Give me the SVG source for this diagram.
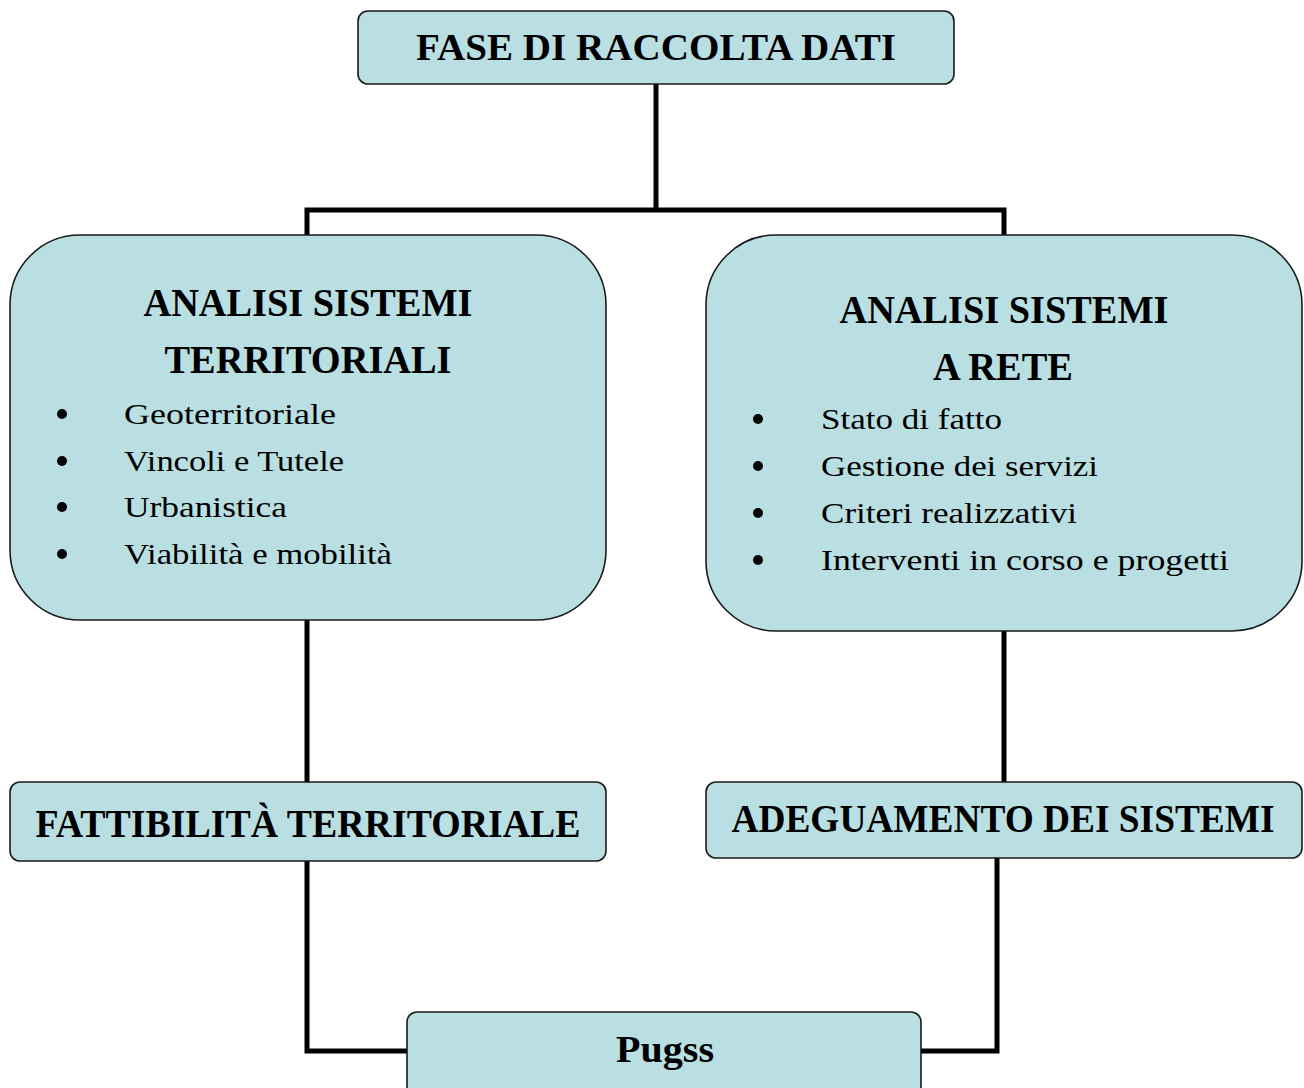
<svg xmlns="http://www.w3.org/2000/svg" width="1304" height="1088" viewBox="0 0 1304 1088">
<style>
.box{fill:#b9dfe3;stroke:#1a1a1a;stroke-width:1.6}
.conn{fill:none;stroke:#000;stroke-width:5;stroke-linejoin:miter}
.t{font-family:"Liberation Serif",serif;font-weight:bold;fill:#000;text-anchor:middle}
.b{font-family:"Liberation Serif",serif;font-size:30px;fill:#000}
.dot{fill:#000}
</style>
<rect width="1304" height="1088" fill="#fff"/>
<g id="connectors">
<path class="conn" d="M656 84 V210 M307 235 V210 H1004 V235"/>
<path class="conn" d="M307 620 V782"/>
<path class="conn" d="M1004 631 V782"/>
<path class="conn" d="M307 861 V1051 H407"/>
<path class="conn" d="M997 855 V1051 H920"/>
</g>
<g id="fase">
<rect class="box" x="358" y="11" width="596" height="73" rx="10"/>
<text class="t" x="656" y="60" font-size="38" textLength="480" lengthAdjust="spacingAndGlyphs">FASE DI RACCOLTA DATI</text>
</g>
<g id="territoriali">
<rect class="box" x="10" y="235" width="596" height="385" rx="70"/>
<text class="t" x="308" y="316" font-size="39" textLength="329" lengthAdjust="spacingAndGlyphs">ANALISI SISTEMI</text>
<text class="t" x="308" y="373" font-size="39" textLength="287" lengthAdjust="spacingAndGlyphs">TERRITORIALI</text>
<circle class="dot" cx="62" cy="414" r="5"/>
<circle class="dot" cx="62" cy="461" r="5"/>
<circle class="dot" cx="62" cy="507" r="5"/>
<circle class="dot" cx="62" cy="554" r="5"/>
<text class="b" x="124" y="424" textLength="212" lengthAdjust="spacingAndGlyphs">Geoterritoriale</text>
<text class="b" x="124" y="471" textLength="220" lengthAdjust="spacingAndGlyphs">Vincoli e Tutele</text>
<text class="b" x="124" y="517" textLength="163" lengthAdjust="spacingAndGlyphs">Urbanistica</text>
<text class="b" x="124" y="564" textLength="268" lengthAdjust="spacingAndGlyphs">Viabilità e mobilità</text>
</g>
<g id="rete">
<rect class="box" x="706" y="235" width="596" height="396" rx="70"/>
<text class="t" x="1004" y="323" font-size="39" textLength="329" lengthAdjust="spacingAndGlyphs">ANALISI SISTEMI</text>
<text class="t" x="1003" y="380" font-size="39" textLength="140" lengthAdjust="spacingAndGlyphs">A RETE</text>
<circle class="dot" cx="758" cy="419" r="5"/>
<circle class="dot" cx="758" cy="466" r="5"/>
<circle class="dot" cx="758" cy="513" r="5"/>
<circle class="dot" cx="758" cy="560" r="5"/>
<text class="b" x="821" y="429" textLength="181" lengthAdjust="spacingAndGlyphs">Stato di fatto</text>
<text class="b" x="821" y="476" textLength="277" lengthAdjust="spacingAndGlyphs">Gestione dei servizi</text>
<text class="b" x="821" y="523" textLength="256" lengthAdjust="spacingAndGlyphs">Criteri realizzativi</text>
<text class="b" x="821" y="570" textLength="408" lengthAdjust="spacingAndGlyphs">Interventi in corso e progetti</text>
</g>
<g id="fattibilita">
<rect class="box" x="10" y="782" width="596" height="79" rx="10"/>
<text class="t" x="308" y="837" font-size="39" textLength="545" lengthAdjust="spacingAndGlyphs">FATTIBILITÀ TERRITORIALE</text>
</g>
<g id="adeguamento">
<rect class="box" x="706" y="782" width="596" height="76" rx="10"/>
<text class="t" x="1003" y="832" font-size="39" textLength="543" lengthAdjust="spacingAndGlyphs">ADEGUAMENTO DEI SISTEMI</text>
</g>
<g id="pugss">
<rect class="box" x="407" y="1012" width="514" height="84" rx="10"/>
<text class="t" x="665" y="1062" font-size="37" textLength="98" lengthAdjust="spacingAndGlyphs">Pugss</text>
</g>
</svg>
